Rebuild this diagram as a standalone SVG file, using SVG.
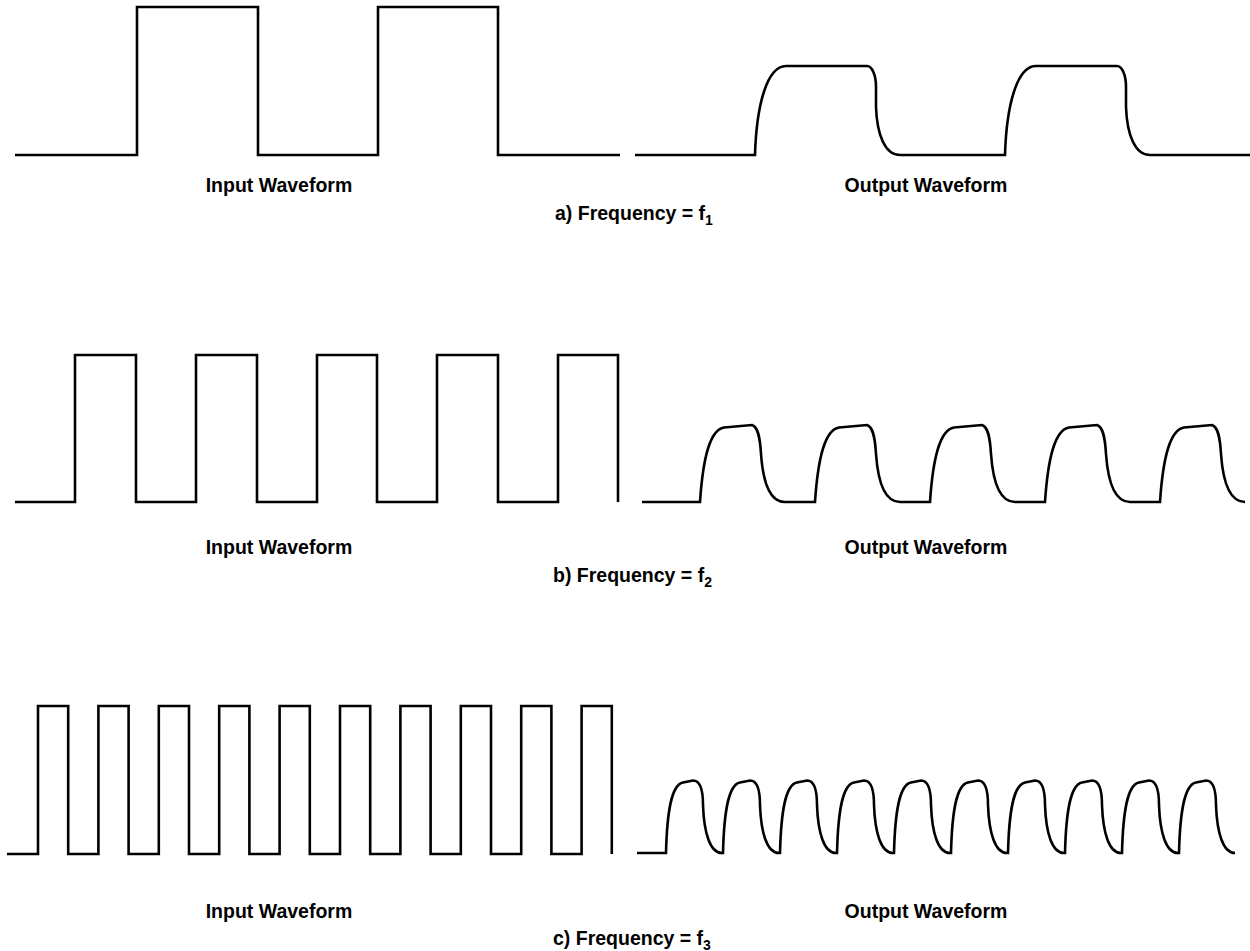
<svg xmlns="http://www.w3.org/2000/svg" width="1250" height="951" viewBox="0 0 1250 951">
<style>
.w{fill:none;stroke:#000;stroke-width:2.6;stroke-linejoin:miter;stroke-linecap:butt}
.t{font-family:"Liberation Sans",Arial,Helvetica,sans-serif;font-weight:bold;font-size:19.5px;fill:#000}
.c{text-anchor:middle}
.s{font-size:14px}
</style>
<rect width="1250" height="951" fill="#fff"/>
<g id="panel-a">
<path id="a-input" class="w" d="M15,155 H137 V7 H258 V155 H378 V7 H498 V155 H620"/>
<path id="a-output" class="w" d="M635,155 H755 c1.5,-50 12,-89 31,-89 h81 c5,0 9,9 9,21 v20 c1,28 9,48 24,48 H1005 c1.5,-50 12,-89 31,-89 h81 c5,0 9,9 9,21 v20 c1,28 9,48 24,48 H1250"/>
<text class="t c" x="279" y="192">Input Waveform</text>
<text class="t c" x="926" y="192">Output Waveform</text>
<text class="t" x="555" y="220">a) Frequency = f<tspan class="s" dy="5">1</tspan></text>
</g>
<g id="panel-b">
<path id="b-input" class="w" d="M15,502 H75 V355 H136 V502 H196 V355 H257 V502 H317 V355 H377 V502 H437 V355 H498 V502 H558 V355 H618 V502"/>
<path id="b-output" class="w" d="M642,502 H700 c3,-45 10,-72 24,-74.5 l28,-2.5 c6,2 8,12 9,29 c2,28 9,48 24,48 H815 c3,-45 10,-72 24,-74.5 l28,-2.5 c6,2 8,12 9,29 c2,28 9,48 24,48 H930 c3,-45 10,-72 24,-74.5 l28,-2.5 c6,2 8,12 9,29 c2,28 9,48 24,48 H1045 c3,-45 10,-72 24,-74.5 l28,-2.5 c6,2 8,12 9,29 c2,28 9,48 24,48 H1160 c3,-45 10,-72 24,-74.5 l28,-2.5 c6,2 8,12 9,29 c2,28 9,48 24,48"/>
<text class="t c" x="279" y="554">Input Waveform</text>
<text class="t c" x="926" y="554">Output Waveform</text>
<text class="t" x="553" y="582">b) Frequency = f<tspan class="s" dy="5">2</tspan></text>
</g>
<g id="panel-c">
<path id="c-input" class="w" d="M7,854 H38 V706 H68.2 V854 H98.4 V706 H128.6 V854 H158.8 V706 H189 V854 H219.2 V706 H249.4 V854 H279.6 V706 H309.8 V854 H340 V706 H370.2 V854 H400.4 V706 H430.6 V854 H460.8 V706 H491 V854 H521.2 V706 H551.4 V854 H581.6 V706 H611.8 V854"/>
<path id="c-output" class="w" d="M637,853 H666 c1,-40 5,-68 17,-70.5 l10,-2 c7,0 10,9 10,24.5 c1,28 7,48 19,48 H723 c1,-40 5,-68 17,-70.5 l10,-2 c7,0 10,9 10,24.5 c1,28 7,48 19,48 H780 c1,-40 5,-68 17,-70.5 l10,-2 c7,0 10,9 10,24.5 c1,28 7,48 19,48 H837 c1,-40 5,-68 17,-70.5 l10,-2 c7,0 10,9 10,24.5 c1,28 7,48 19,48 H894 c1,-40 5,-68 17,-70.5 l10,-2 c7,0 10,9 10,24.5 c1,28 7,48 19,48 H951 c1,-40 5,-68 17,-70.5 l10,-2 c7,0 10,9 10,24.5 c1,28 7,48 19,48 H1008 c1,-40 5,-68 17,-70.5 l10,-2 c7,0 10,9 10,24.5 c1,28 7,48 19,48 H1065 c1,-40 5,-68 17,-70.5 l10,-2 c7,0 10,9 10,24.5 c1,28 7,48 19,48 H1122 c1,-40 5,-68 17,-70.5 l10,-2 c7,0 10,9 10,24.5 c1,28 7,48 19,48 H1179 c1,-40 5,-68 17,-70.5 l10,-2 c7,0 10,9 10,24.5 c1,28 7,48 19,48"/>
<text class="t c" x="279" y="918">Input Waveform</text>
<text class="t c" x="926" y="918">Output Waveform</text>
<text class="t" x="553" y="945">c) Frequency = f<tspan class="s" dy="5">3</tspan></text>
</g>
</svg>
